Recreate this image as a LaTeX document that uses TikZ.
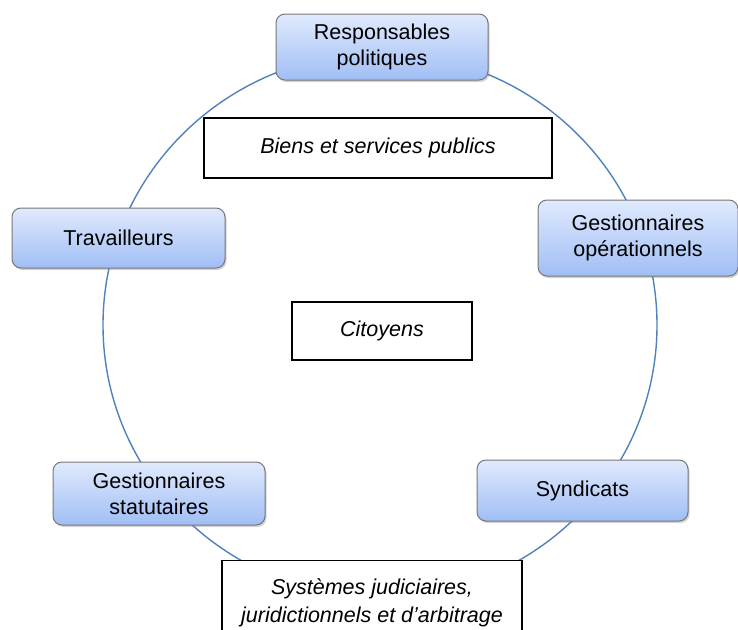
\documentclass[tikz,border=0pt]{standalone}
\usepackage{fontspec}
\setmainfont{Liberation Sans}
\usetikzlibrary{shadows}
\definecolor{ringblue}{RGB}{79,129,189}
\definecolor{boxtop}{RGB}{224,234,253}
\definecolor{boxbot}{RGB}{160,190,245}
\definecolor{boxedge}{RGB}{120,120,120}
\tikzset{
  actor/.style={draw=boxedge, line width=1pt, rounded corners=9pt,
    top color=boxtop, bottom color=boxbot, align=center,
    font=\fontsize{21.5}{26}\selectfont, inner sep=0pt,
    drop shadow={shadow xshift=1.5pt, shadow yshift=-2pt, opacity=0.35, fill=gray}},
  topic/.style={draw=black, line width=1.3pt, fill=white, align=center,
    font=\fontsize{21.5}{28}\selectfont\itshape, inner sep=0pt}
}
\begin{document}
\begin{tikzpicture}[x=1pt,y=-1pt]
\useasboundingbox (0,0) rectangle (738,629);
\draw[ringblue, line width=1.4pt] (380,325) ellipse [x radius=277, y radius=-272];
\node[actor, minimum width=212pt, minimum height=66pt] (resp) at (382,47) {Responsables\\politiques};
\node[actor, minimum width=200pt, minimum height=76pt] (gop) at (638,238) {Gestionnaires\\opérationnels};
\node[actor, minimum width=213pt, minimum height=60pt] (trav) at (118.5,238) {Travailleurs};
\node[actor, minimum width=212pt, minimum height=63pt] (gstat) at (159,493.5) {Gestionnaires\\statutaires};
\node[actor, minimum width=211pt, minimum height=61pt] (synd) at (582.5,490.5) {Syndicats};
\node[topic, minimum width=348pt, minimum height=60pt] (biens) at (378,148) {Biens et services publics};
\node[topic, minimum width=180pt, minimum height=58pt] (cit) at (382,331) {Citoyens};
\node[topic, minimum width=300pt, minimum height=84pt, anchor=north] (sys) at (372,560) {Systèmes judiciaires,\\juridictionnels et d’arbitrage};
\end{tikzpicture}
\end{document}
